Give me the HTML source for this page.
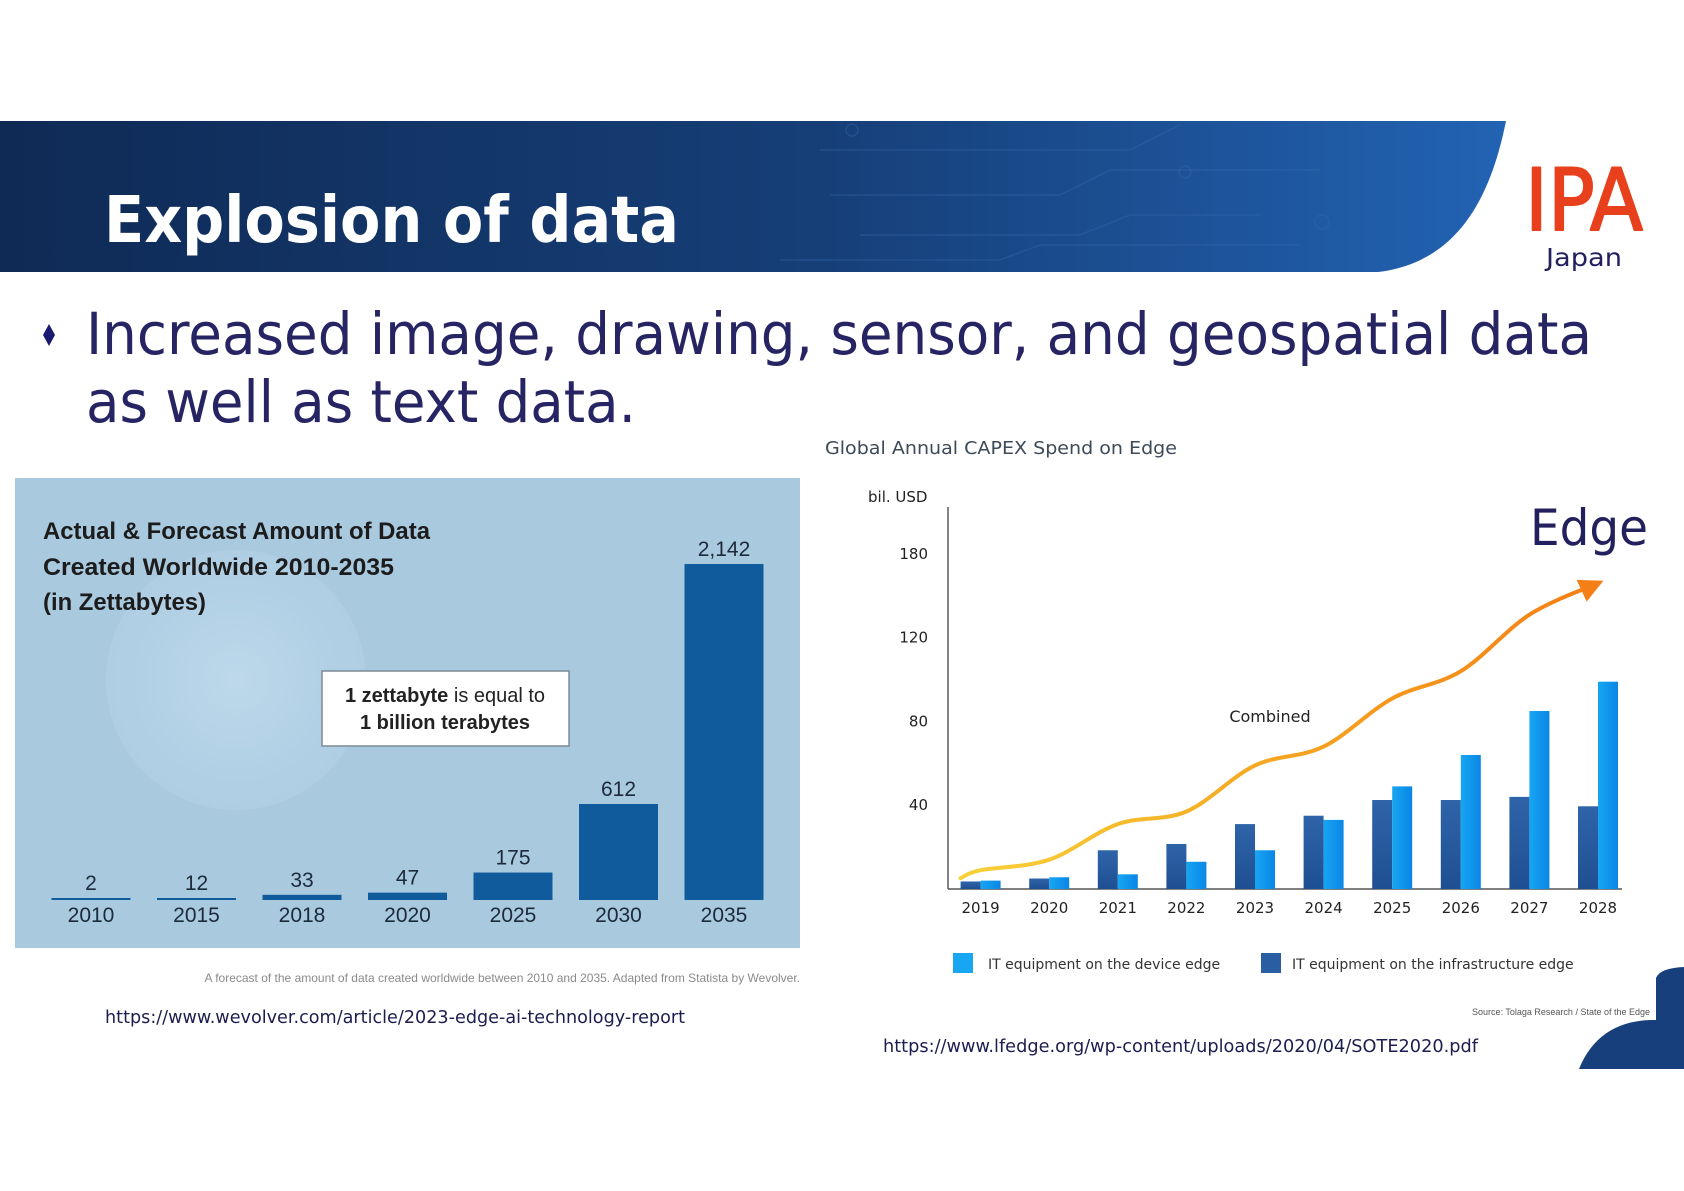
<!DOCTYPE html>
<html><head><meta charset="utf-8"><style>
html,body{margin:0;padding:0;background:#fff;}
svg{display:block;}
</style></head><body>
<svg id="slide" width="1684" height="1191" viewBox="0 0 1684 1191" xmlns="http://www.w3.org/2000/svg">
<defs>
<linearGradient id="bannerGrad" x1="0" y1="0" x2="1" y2="0">
<stop offset="0" stop-color="#0f2a55"/><stop offset="0.55" stop-color="#163f78"/><stop offset="1" stop-color="#2263b3"/>
</linearGradient>
<linearGradient id="lightBar" x1="0" y1="0" x2="1" y2="0">
<stop offset="0" stop-color="#17a6f2"/><stop offset="1" stop-color="#0a86e6"/>
</linearGradient>
<linearGradient id="darkBar" x1="0" y1="0" x2="0" y2="1">
<stop offset="0" stop-color="#2f64a8"/><stop offset="1" stop-color="#1f4f93"/>
</linearGradient>
<linearGradient id="lineGrad" x1="0" y1="0" x2="1" y2="0">
<stop offset="0" stop-color="#f7d23a"/><stop offset="0.5" stop-color="#f6a520"/><stop offset="1" stop-color="#f57f17"/>
</linearGradient>
<radialGradient id="globeGrad" cx="0.5" cy="0.5" r="0.5">
<stop offset="0" stop-color="#c6dff0" stop-opacity="0.7"/><stop offset="1" stop-color="#b6d3e8" stop-opacity="0.45"/>
</radialGradient>
</defs>

<path d="M0,121 L1506,121 C1492,190 1462,262 1378,272 L0,272 Z" fill="url(#bannerGrad)"/>
<g stroke="#3a6db0" stroke-opacity="0.35" fill="none" stroke-width="1.5">
<path d="M820,150 L1130,150 L1180,125"/><path d="M830,195 L1060,195 L1110,170 L1320,170"/>
<path d="M860,235 L1080,235 L1130,215 L1260,215"/><path d="M780,260 L1000,260 L1040,245 L1300,245"/>
<circle cx="852" cy="130" r="6"/><circle cx="1185" cy="172" r="6"/><circle cx="1322" cy="222" r="7"/>
</g>
<text x="104" y="242" font-family="'DejaVu Sans',sans-serif" font-weight="bold" font-size="64" fill="#ffffff" textLength="575" lengthAdjust="spacingAndGlyphs">Explosion of data</text>

<text x="1525" y="230" font-family="'DejaVu Sans',sans-serif" font-size="86" fill="#e8401c" stroke="#e8401c" stroke-width="2" stroke-linejoin="round" textLength="118" lengthAdjust="spacingAndGlyphs">IPA</text>
<text x="1546" y="266" font-family="'DejaVu Sans',sans-serif" font-size="25" fill="#23205e" textLength="76" lengthAdjust="spacingAndGlyphs">Japan</text>

<path d="M49,324 L55,335 L49,346 L43,335 Z" fill="#1a1a70"/>
<text x="86" y="354" font-family="'DejaVu Sans',sans-serif" font-size="58" fill="#262463" textLength="1506" lengthAdjust="spacingAndGlyphs">Increased image, drawing, sensor, and geospatial data</text>
<text x="86" y="422" font-family="'DejaVu Sans',sans-serif" font-size="58" fill="#262463" textLength="550" lengthAdjust="spacingAndGlyphs">as well as text data.</text>

<g id="leftChart">
<rect x="15" y="478" width="785" height="470" fill="#a9c9df"/>
<circle cx="236" cy="680" r="130" fill="url(#globeGrad)"/>
<text x="43" y="539" font-family="'Liberation Sans',sans-serif" font-weight="bold" font-size="24" fill="#1c1c1c" textLength="387" lengthAdjust="spacingAndGlyphs">Actual &amp; Forecast Amount of Data</text>
<text x="43" y="575" font-family="'Liberation Sans',sans-serif" font-weight="bold" font-size="24" fill="#1c1c1c" textLength="351" lengthAdjust="spacingAndGlyphs">Created Worldwide 2010-2035</text>
<text x="43" y="610" font-family="'Liberation Sans',sans-serif" font-weight="bold" font-size="24" fill="#1c1c1c" textLength="163" lengthAdjust="spacingAndGlyphs">(in Zettabytes)</text>
<rect x="322" y="671" width="247" height="75" fill="#ffffff" stroke="#7d8a95" stroke-width="1.5"/>
<text x="445" y="702" text-anchor="middle" font-family="'Liberation Sans',sans-serif" font-size="20" fill="#222"><tspan font-weight="bold">1 zettabyte</tspan> is equal to</text>
<text x="445" y="729" text-anchor="middle" font-family="'Liberation Sans',sans-serif" font-weight="bold" font-size="20" fill="#222">1 billion terabytes</text>
<g id="leftBars"></g>
</g>
<text x="800" y="982" text-anchor="end" font-family="'Liberation Sans',sans-serif" font-size="12" fill="#8a8a8a">A forecast of the amount of data created worldwide between 2010 and 2035. Adapted from Statista by Wevolver.</text>
<text x="105" y="1023" font-family="'DejaVu Sans',sans-serif" font-size="18" fill="#1d1d50" textLength="580" lengthAdjust="spacingAndGlyphs">https://www.wevolver.com/article/2023-edge-ai-technology-report</text>

<text x="825" y="454" font-family="'DejaVu Sans',sans-serif" font-size="18" fill="#3d4a58" textLength="352" lengthAdjust="spacingAndGlyphs">Global Annual CAPEX Spend on Edge</text>
<text x="868" y="502" font-family="'DejaVu Sans',sans-serif" font-size="15" fill="#222">bil. USD</text>
<text x="1530" y="545" font-family="'DejaVu Sans',sans-serif" font-size="50" fill="#23205e" textLength="118" lengthAdjust="spacingAndGlyphs">Edge</text>
<g id="rightChart"></g>
<text x="1270" y="722" text-anchor="middle" font-family="'DejaVu Sans',sans-serif" font-size="16" fill="#222">Combined</text>

<rect x="953" y="953" width="20" height="20" fill="#17a6f2"/>
<text x="988" y="969" font-family="'DejaVu Sans',sans-serif" font-size="14" fill="#333">IT equipment on the device edge</text>
<rect x="1261" y="953" width="20" height="20" fill="#2a5ea2"/>
<text x="1292" y="969" font-family="'DejaVu Sans',sans-serif" font-size="14" fill="#333">IT equipment on the infrastructure edge</text>

<path d="M1579,1069 Q1598,1022 1650,1020 L1656,1020 L1656,978 Q1660,968 1684,967 L1684,1069 Z" fill="#173f7c"/>
<text x="1650" y="1015" text-anchor="end" font-family="'Liberation Sans',sans-serif" font-size="9" fill="#555">Source: Tolaga Research / State of the Edge</text>
<text x="883" y="1052" font-family="'DejaVu Sans',sans-serif" font-size="18" fill="#1d1d50" textLength="595" lengthAdjust="spacingAndGlyphs">https://www.lfedge.org/wp-content/uploads/2020/04/SOTE2020.pdf</text>
</svg>

<script>
const dataYears = ['2010','2015','2018','2020','2025','2030','2035'];
const dataValues = [2, 12, 33, 47, 175, 612, 2142];
const dataValueLabels = ['2','12','33','47','175','612','2,142'];

const capexYears = ['2019','2020','2021','2022','2023','2024','2025','2026','2027','2028'];
const infraValues = [3.6, 5, 18.5, 21.5, 31, 35, 42.5, 42.5, 44, 39.5];
const deviceValues = [4, 5.6, 7, 13, 18.5, 33, 49, 64, 85, 99];
const combinedValues = [9, 14, 31, 37, 59, 68, 91, 104, 131, 146];
const yTickValues = [40, 80, 120, 160];
const yTickLabels = ['40', '80', '120', '180'];

const NS = 'http://www.w3.org/2000/svg';
function mk(tag, attrs, parent){ const e = document.createElementNS(NS, tag); for (const k in attrs) e.setAttribute(k, attrs[k]); parent.appendChild(e); return e; }

(function(){
  const g = document.getElementById('leftBars');
  const base = 900, x0 = 91, step = 105.5, bw = 79, maxH = 336, maxV = 2142;
  const xL = i => x0 + i * step;
  const yL = v => base - v / maxV * maxH;
  dataYears.forEach((yr, i) => {
    const cx = xL(i);
    const top = Math.min(yL(dataValues[i]), base - 2);
    const r = mk('rect', {x: cx - bw/2, y: top, width: bw, height: base - top, fill: '#0f5b9b'}, g);
    
    
    const v = mk('text', {x: cx, y: top - 8, 'text-anchor': 'middle', 'font-family': "'Liberation Sans',sans-serif", 'font-size': 21, fill: '#1c2a3a'}, g);
    v.textContent = dataValueLabels[i];
    
    
    const t = mk('text', {x: cx, y: 922, 'text-anchor': 'middle', 'font-family': "'Liberation Sans',sans-serif", 'font-size': 21, fill: '#1c2a3a'}, g);
    t.textContent = yr;
    
    
  });
})();

(function(){
  const g = document.getElementById('rightChart');
  const base = 889, axisX = 948, x0 = 980.6, step = 68.6, bw = 20, ppu = 2.094;
  const xS = i => x0 + i * step;
  const yS = v => base - v * ppu;
  const ya = mk('line', {x1: axisX, y1: 507, x2: axisX, y2: base, stroke: '#333', 'stroke-width': 1.2}, g);
  
  
  const xa = mk('line', {x1: axisX, y1: base, x2: 1622, y2: base, stroke: '#555', 'stroke-width': 1.5}, g);
  
  
  yTickValues.forEach((tv, i) => {
    const t = mk('text', {x: 928, y: yS(tv) + 5, 'text-anchor': 'end', 'font-family': "'DejaVu Sans',sans-serif", 'font-size': 15, fill: '#222'}, g);
    t.textContent = yTickLabels[i];
    
    
  });
  capexYears.forEach((yr, i) => {
    const cx = xS(i);
    const d = mk('rect', {x: cx - bw, y: yS(infraValues[i]), width: bw, height: infraValues[i] * ppu, fill: 'url(#darkBar)'}, g);
    
    
    const l = mk('rect', {x: cx, y: yS(deviceValues[i]), width: bw, height: deviceValues[i] * ppu, fill: 'url(#lightBar)'}, g);
    
    
    const t = mk('text', {x: cx, y: 913, 'text-anchor': 'middle', 'font-family': "'DejaVu Sans',sans-serif", 'font-size': 15, fill: '#222'}, g);
    t.textContent = yr;
    
    
  });
  const pts = combinedValues.map((v, i) => [xS(i), yS(v)]);
  pts.unshift([xS(0) - 20, yS(combinedValues[0]) + 8]);
  let d = 'M' + pts[0][0] + ',' + pts[0][1];
  for (let i = 0; i < pts.length - 1; i++) {
    const p0 = pts[Math.max(0, i - 1)], p1 = pts[i], p2 = pts[i + 1], p3 = pts[Math.min(pts.length - 1, i + 2)];
    const c1 = [p1[0] + (p2[0] - p0[0]) / 6, p1[1] + (p2[1] - p0[1]) / 6];
    const c2 = [p2[0] - (p3[0] - p1[0]) / 6, p2[1] - (p3[1] - p1[1]) / 6];
    d += ' C' + c1.join(',') + ' ' + c2.join(',') + ' ' + p2.join(',');
  }
  const line = mk('path', {d: d, fill: 'none', stroke: 'url(#lineGrad)', 'stroke-width': 4, 'stroke-linecap': 'round'}, g);
  
  
  const n = pts.length - 1, pe = pts[n], pp = pts[n - 1];
  const ang = Math.atan2(pe[1] - pp[1], pe[0] - pp[0]);
  const tip = [pe[0] + 6 * Math.cos(ang), pe[1] + 6 * Math.sin(ang)];
  const s = 12, back = 24;
  const bx = tip[0] - back * Math.cos(ang), by = tip[1] - back * Math.sin(ang);
  const a = mk('path', {d: 'M' + tip.join(',') + ' L' + (bx - s * Math.sin(ang)) + ',' + (by + s * Math.cos(ang)) + ' L' + (bx + s * Math.sin(ang)) + ',' + (by - s * Math.cos(ang)) + ' Z', fill: '#f57f17'}, g);
  
  
})();
</script>
</body></html>
